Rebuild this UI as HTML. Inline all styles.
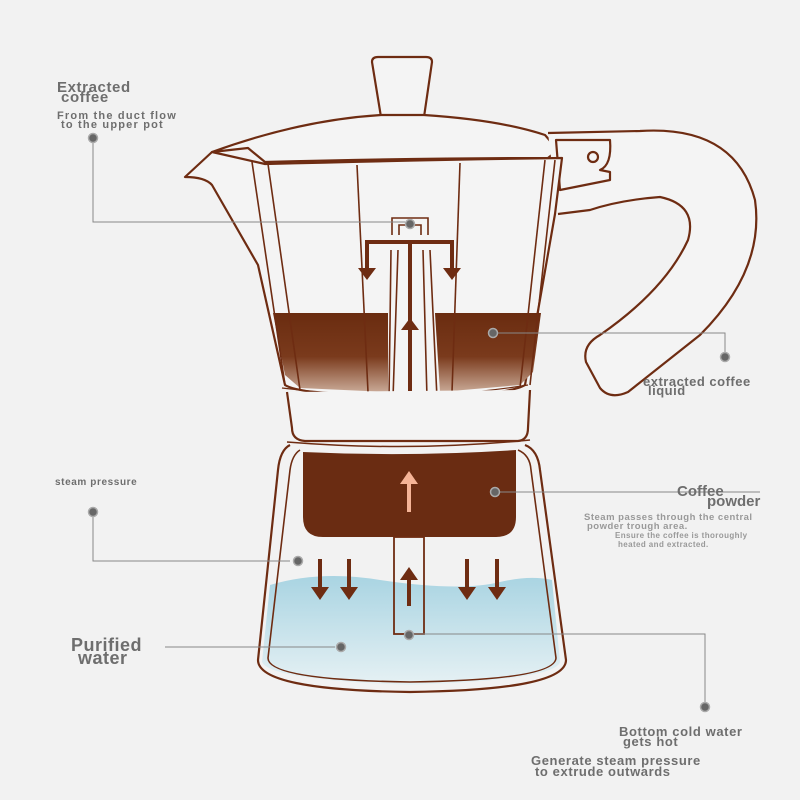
<!DOCTYPE html>
<html><head><meta charset="utf-8"><style>
html,body{margin:0;padding:0;background:#f2f2f2}
svg{display:block}
text{font-family:"Liberation Sans",Arial,sans-serif;font-weight:bold;fill:#6e6e6e}
</style></head><body>
<svg width="800" height="800" viewBox="0 0 800 800" xmlns="http://www.w3.org/2000/svg">
<defs>
<linearGradient id="cof" x1="0" y1="0" x2="0" y2="1">
<stop offset="0" stop-color="#6a2c10"/><stop offset="0.55" stop-color="#7a3a1c"/><stop offset="1" stop-color="#c9a996"/></linearGradient>
<linearGradient id="wat" x1="0" y1="0" x2="0" y2="1">
<stop offset="0" stop-color="#a9d4e2"/><stop offset="1" stop-color="#e6f1f4"/></linearGradient>
</defs>
<rect width="800" height="800" fill="#f2f2f2"/>
<g fill="none" stroke="#6e2c12" stroke-width="2.2" stroke-linejoin="round">
<path d="M372,62 Q372,57 378,57 L426,57 Q432,57 432,62 L424,117 L381,117 Z" fill="#f4f4f4"/>
<path d="M212,152 Q300,120 381,115 L424,115 Q500,120 545,135 L558,150 L548,158 Q420,158 265,162 L248,148 Z" fill="#f4f4f4"/>
<path d="M548,133 L640,131 Q735,125 755,200 Q765,270 700,335 L628,392 Q610,400 600,388 L586,362 Q582,345 600,335 Q665,290 688,240 Q698,205 660,197 Q620,200 590,210 L558,214" fill="#f4f4f4"/>
<path d="M556,140 L610,140 Q612,165 600,170 L610,172 L610,180 L560,190 Z" fill="#f4f4f4"/>
<circle cx="593" cy="157" r="5"/>
<path d="M212,152 L185,177 Q205,177 212,185 L258,265 L285,385 Q300,395 410,398 Q510,395 525,385 L555,214 L562,158 Q420,160 265,164 Z" fill="#f4f4f4"/>
</g>
<path d="M273,313 L388,313 L388,392 L300,388 L285,375 Z" fill="url(#cof)"/>
<path d="M435,313 L541,313 L533,372 L520,385 L440,392 Z" fill="url(#cof)"/>
<g fill="none" stroke="#6e2c12" stroke-width="1.6">
<line x1="252" y1="162" x2="285" y2="385"/>
<line x1="268" y1="164" x2="300" y2="390"/>
<line x1="357" y1="165" x2="368" y2="392"/>
<line x1="460" y1="163" x2="452" y2="392"/>
<line x1="545" y1="160" x2="520" y2="388"/>
<line x1="555" y1="160" x2="530" y2="385"/>
<path d="M392,235 L392,218 L428,218 L428,235"/>
<path d="M399,235 L399,225 L421,225 L421,235"/>
<path d="M391,250 L389,398 M398,250 L393,398 M423,250 L427,398 M430,250 L437,398"/>
<path d="M282,388 Q410,404 528,385" stroke-width="1.2"/>
</g>
<g stroke="#6e2c12" stroke-width="4" fill="none">
<path d="M367,270 L367,242 L452,242 L452,270"/>
<line x1="410" y1="242" x2="410" y2="392"/>
</g>
<g fill="#6e2c12">
<polygon points="358,268 376,268 367,280"/>
<polygon points="443,268 461,268 452,280"/>
<polygon points="401,330 419,330 410,318"/>
</g>
<g fill="none" stroke="#6e2c12" stroke-width="2.2">
<path d="M287,392 L292,428 Q292,440 305,441 L518,441 Q528,440 528,428 L530,390" fill="#f4f4f4"/>
</g>
<path d="M270,585 Q320,570 380,580 Q460,592 500,582 Q530,575 552,580 L560,662 Q555,680 410,685 Q270,680 262,662 Z" fill="url(#wat)"/>
<g fill="none" stroke="#6e2c12" stroke-width="2.2">
<path d="M290,445 Q280,450 278,470 L258,660 Q258,690 410,692 Q566,690 566,660 L540,470 Q538,450 525,445"/>
<path d="M300,450 Q292,455 290,470 L268,658 Q268,680 410,682 Q555,680 556,658 L531,470 Q530,455 518,450" stroke-width="1.6"/>
<path d="M287,442 Q410,452 530,440" stroke-width="1.5"/>
</g>
<path d="M303,452 Q410,457 516,450 L516,517 Q516,537 496,537 L323,537 Q303,537 303,517 Z" fill="#6a2c12"/>
<rect x="394" y="537" width="30" height="97" fill="none" stroke="#6e2c12" stroke-width="1.8"/>
<g stroke="#f5b497" stroke-width="4"><line x1="409" y1="512" x2="409" y2="482"/></g>
<polygon points="400,484 418,484 409,471" fill="#f5b497"/>
<g stroke="#6e2c12" stroke-width="4">
<line x1="320" y1="559" x2="320" y2="590"/><line x1="349" y1="559" x2="349" y2="590"/>
<line x1="467" y1="559" x2="467" y2="590"/><line x1="497" y1="559" x2="497" y2="590"/>
<line x1="409" y1="606" x2="409" y2="578"/>
</g>
<g fill="#6e2c12">
<polygon points="311,587 329,587 320,600"/><polygon points="340,587 358,587 349,600"/>
<polygon points="458,587 476,587 467,600"/><polygon points="488,587 506,587 497,600"/>
<polygon points="400,580 418,580 409,567"/>
</g>
<g fill="none" stroke="#888" stroke-width="1">
<path d="M93,138 L93,222 L405,222"/>
<path d="M493,333 L725,333 L725,357"/>
<path d="M93,512 L93,561 L290,561"/>
<path d="M500,492 L760,492"/>
<path d="M165,647 L335,647"/>
<path d="M409,634 L705,634 L705,707"/>
</g>
<g fill="#666" stroke="#aaa" stroke-width="1.5">
<circle cx="93" cy="138" r="4.5"/><circle cx="410" cy="224" r="4.5"/>
<circle cx="493" cy="333" r="4.5"/><circle cx="725" cy="357" r="4.5"/>
<circle cx="93" cy="512" r="4.5"/><circle cx="298" cy="561" r="4.5"/>
<circle cx="495" cy="492" r="4.5"/><circle cx="341" cy="647" r="4.5"/>
<circle cx="409" cy="635" r="4.5"/><circle cx="705" cy="707" r="4.5"/>
</g>
<text x="57" y="92" font-size="15" letter-spacing="0.6">Extracted</text>
<text x="61" y="102" font-size="15" letter-spacing="0.6">coffee</text>
<text x="57" y="119" font-size="11" letter-spacing="1.2">From the duct flow</text>
<text x="61" y="128" font-size="11" letter-spacing="1.2">to the upper pot</text>
<text x="643" y="386" font-size="13" letter-spacing="0.5">extracted coffee</text>
<text x="648" y="395" font-size="13" letter-spacing="0.5">liquid</text>
<text x="55" y="485" font-size="10" letter-spacing="0.6">steam pressure</text>
<text x="677" y="496" font-size="15">Coffee</text>
<text x="707" y="506" font-size="15">powder</text>
<text x="584" y="520" font-size="9.5" letter-spacing="0.5" style="fill:#999">Steam passes through the central</text>
<text x="587" y="529" font-size="9.5" letter-spacing="0.5" style="fill:#999">powder trough area.</text>
<text x="615" y="538" font-size="8" letter-spacing="0.4" style="fill:#999">Ensure the coffee is thoroughly</text>
<text x="618" y="547" font-size="8" letter-spacing="0.4" style="fill:#999">heated and extracted.</text>
<text x="71" y="651" font-size="18" letter-spacing="0.5">Purified</text>
<text x="78" y="664" font-size="18" letter-spacing="0.5">water</text>
<text x="619" y="736" font-size="13" letter-spacing="0.6">Bottom cold water</text>
<text x="623" y="746" font-size="13" letter-spacing="0.6">gets hot</text>
<text x="531" y="765" font-size="13" letter-spacing="0.6">Generate steam pressure</text>
<text x="535" y="776" font-size="13" letter-spacing="0.6">to extrude outwards</text>
</svg>
</body></html>
